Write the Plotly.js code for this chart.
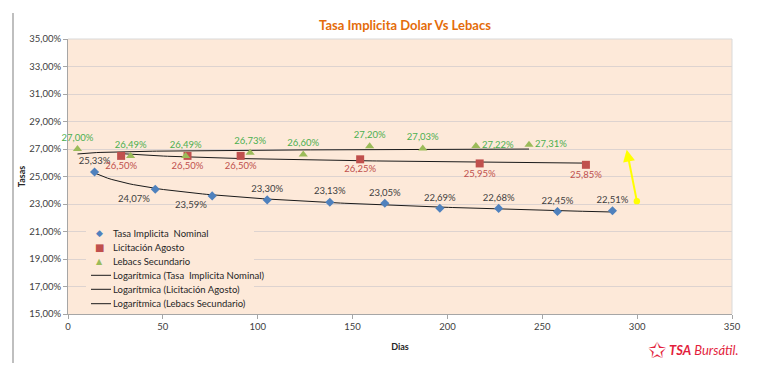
<!DOCTYPE html>
<html>
<head>
<meta charset="utf-8">
<script src="https://cdn.plot.ly/plotly-3.0.1.min.js"></script>
<style>html,body{margin:0;padding:0;background:#fff;}#chart{width:772px;height:375px;}</style>
</head>
<body>
<div id="chart"></div>
<script>
// ---- data ----
const tasaDias = [14, 46, 76, 105, 138, 167, 196, 227, 258, 287];
const tasaVals = [25.33, 24.07, 23.59, 23.30, 23.13, 23.05, 22.69, 22.68, 22.45, 22.51];
const licDias = [28, 63, 91, 154, 217, 273];
const licVals = [26.50, 26.50, 26.50, 26.25, 25.95, 25.85];
const lebDias = [5, 33, 62, 96, 124, 159, 187, 215, 243];
const lebVals = [27.00, 26.49, 26.49, 26.73, 26.60, 27.20, 27.03, 27.22, 27.31];
const seriesNames = ['Tasa Implicita  Nominal', 'Licitación Agosto', 'Lebacs Secundario'];
const trendNames = ['Logarítmica (Tasa  Implicita Nominal)', 'Logarítmica (Licitación Agosto)', 'Logarítmica (Lebacs Secundario)'];
const arrowTail = [300, 23.1];
const arrowHead = [294.5, 26.95];

// ---- styles ----
const FONT = 'Lato, sans-serif';
const colors = { tasa: '#4F81BD', lic: '#C0504D', leb: '#9BBB59', tasaTxt: '#404040', licTxt: '#C0504D', lebTxt: '#4BAF4F' };

// ---- helpers ----
const fmt = v => v.toFixed(2).replace('.', ',') + '%';
function logFit(xs, ys) {
  const n = xs.length; const lx = xs.map(Math.log);
  const mx = lx.reduce((a, b) => a + b, 0) / n, my = ys.reduce((a, b) => a + b, 0) / n;
  let sxy = 0, sxx = 0;
  for (let i = 0; i < n; i++) { sxy += (lx[i] - mx) * (ys[i] - my); sxx += (lx[i] - mx) ** 2; }
  const a = sxy / sxx, b = my - a * mx;
  return x => a * Math.log(x) + b;
}
function trendTrace(xs, ys, name) {
  const f = logFit(xs, ys); const x0 = xs[0], x1 = xs[xs.length - 1]; const tx = [], ty = [];
  for (let i = 0; i <= 120; i++) { const x = x0 + (x1 - x0) * i / 120; tx.push(x); ty.push(f(x)); }
  return { x: tx, y: ty, type: 'scatter', mode: 'lines', name: name, showlegend: false,
    line: { color: '#1a1a1a', width: 1 }, hoverinfo: 'skip' };
}

const tasaPos = tasaDias.map((d, i) => (i === 1 || i === 2) ? 'bottom left' : 'top center');
const lebPos = lebDias.map((d, i) => (i >= 7) ? 'middle right' : 'top center');

const traces = [
  trendTrace(tasaDias, tasaVals, trendNames[0]),
  trendTrace(licDias, licVals, trendNames[1]),
  trendTrace(lebDias, lebVals, trendNames[2]),
  { x: tasaDias, y: tasaVals, type: 'scatter', mode: 'markers+text', name: seriesNames[0], showlegend: false,
    cliponaxis: false, marker: { symbol: 'diamond', size: 7, color: colors.tasa },
    text: tasaVals.map(fmt), textposition: tasaPos,
    textfont: { family: FONT, size: 9.5, color: colors.tasaTxt } },
  { x: licDias, y: licVals, type: 'scatter', mode: 'markers+text', name: seriesNames[1], showlegend: false,
    cliponaxis: false, marker: { symbol: 'square', size: 8, color: colors.lic },
    text: licVals.map(fmt), textposition: 'bottom center',
    textfont: { family: FONT, size: 9.5, color: colors.licTxt } },
  { x: lebDias, y: lebVals, type: 'scatter', mode: 'markers+text', name: seriesNames[2], showlegend: false,
    cliponaxis: false, marker: { symbol: 'triangle-up', size: 8, color: colors.leb },
    text: lebVals.map(fmt), textposition: lebPos,
    textfont: { family: FONT, size: 9.5, color: colors.lebTxt } }
];

// pixel -> paper helpers (plot area: l=68, r=40, t=39, b=61)
const L = 68, R = 40, T = 39, B = 61, W = 772, H = 375;
const pw = W - L - R, ph = H - T - B;
const px = v => (v - L) / pw, py = v => (H - B - v) / ph;

const shapes = [
  { type: 'line', xref: 'paper', yref: 'paper', x0: px(13), x1: px(13), y0: py(363), y1: py(13),
    line: { color: '#BFBFBF', width: 2 } },
  // faint frame at top/right of plot area
  { type: 'line', xref: 'paper', yref: 'paper', x0: 0, x1: 1, y0: 1, y1: 1, line: { color: '#D9D9D9', width: 1 } },
  { type: 'line', xref: 'paper', yref: 'paper', x0: 1, x1: 1, y0: 0, y1: 1, line: { color: '#D9D9D9', width: 1 } },
  // legend box (covers gridlines like the reference)
  { type: 'rect', xref: 'paper', yref: 'paper', layer: 'above', x0: px(86), x1: px(254), y0: py(311), y1: py(225),
    fillcolor: '#FDE9D9', line: { width: 0 } }
];
const annotations = [
  { x: arrowHead[0], y: arrowHead[1], ax: arrowTail[0], ay: arrowTail[1], axref: 'x', ayref: 'y',
    xref: 'x', yref: 'y', text: '', showarrow: true, arrowhead: 2, arrowsize: 1.2, arrowwidth: 2,
    arrowcolor: '#FFFF00', arrowside: 'end+start', startarrowhead: 6, startarrowsize: 0.8 }
];

// custom legend
const rowY = [233, 247, 261.3, 275.3, 289.3, 303.7];
const glyphs = [['◆', colors.tasa, 9], ['■', colors.lic, 10], ['▲', colors.leb, 8]];
seriesNames.forEach((nm, i) => {
  annotations.push({ x: px(99), y: py(rowY[i]), xref: 'paper', yref: 'paper', showarrow: false,
    xanchor: 'center', yanchor: 'middle', text: glyphs[i][0], font: { family: 'DejaVu Sans', size: glyphs[i][2], color: glyphs[i][1] } });
  annotations.push({ x: px(111), y: py(rowY[i]), xref: 'paper', yref: 'paper', showarrow: false,
    xanchor: 'left', yanchor: 'middle', text: nm, font: { family: FONT, size: 9.5, color: '#262626' } });
});
trendNames.forEach((nm, j) => {
  const i = j + 3;
  shapes.push({ type: 'line', xref: 'paper', yref: 'paper', layer: 'above', x0: px(91), x1: px(111),
    y0: py(rowY[i]), y1: py(rowY[i]), line: { color: '#1a1a1a', width: 1 } });
  annotations.push({ x: px(111), y: py(rowY[i]), xref: 'paper', yref: 'paper', showarrow: false,
    xanchor: 'left', yanchor: 'middle', text: nm, font: { family: FONT, size: 9.5, color: '#262626' } });
});

// logo
annotations.push(
  { x: px(657), y: py(350), xref: 'paper', yref: 'paper', showarrow: false, xanchor: 'center', yanchor: 'middle',
    text: '✩', font: { family: 'DejaVu Sans', size: 22, color: '#E31E3C' } },
  { x: px(667), y: py(350), xref: 'paper', yref: 'paper', showarrow: false, xanchor: 'left', yanchor: 'middle',
    text: '<b><i>TSA</i></b><i> Bursátil.</i>', font: { family: FONT, size: 13, color: '#E31E3C' } }
);

const layout = {
  width: W, height: H,
  margin: { l: L, r: R, t: T, b: B },
  paper_bgcolor: '#ffffff', plot_bgcolor: '#FDE9D9',
  separators: ',.',
  font: { family: FONT, size: 9.5, color: '#404040' },
  showlegend: false,
  title: { text: '<b>Tasa Implicita Dolar Vs Lebacs</b>', x: px(405), xref: 'paper', xanchor: 'center',
    y: 1 - 25 / H, yref: 'container', yanchor: 'middle',
    font: { family: FONT, size: 13, color: '#E46C0A' } },
  xaxis: { range: [0, 350], dtick: 50, tick0: 0, showgrid: false, zeroline: false,
    showline: true, linecolor: '#A6A6A6', linewidth: 1, ticks: 'outside', ticklen: 4, tickcolor: '#A6A6A6',
    tickfont: { size: 9.5, color: '#404040' },
    title: { text: '<b>Dias</b>', font: { size: 9, color: '#262626' }, standoff: 12 } },
  yaxis: { range: [15, 35], dtick: 2, tick0: 15, tickformat: '.2f', ticksuffix: '%',
    showgrid: true, gridcolor: '#DDD3D0', gridwidth: 1, zeroline: false,
    showline: true, linecolor: '#A6A6A6', linewidth: 1, ticks: 'outside', ticklen: 4, tickcolor: '#A6A6A6',
    tickfont: { size: 9.5, color: '#404040' },
    title: { text: '<b>Tasas</b>', font: { size: 9, color: '#262626' }, standoff: 2 } },
  shapes: shapes,
  annotations: annotations
};

Plotly.newPlot('chart', traces, layout, { displayModeBar: false, staticPlot: true });
</script>
</body>
</html>
